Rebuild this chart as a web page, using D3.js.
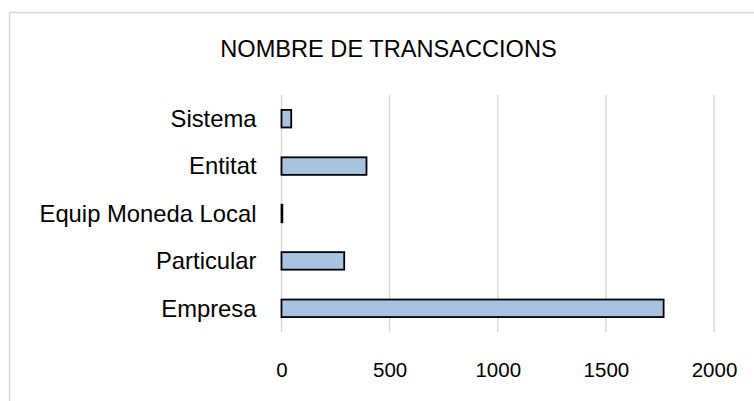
<!DOCTYPE html>
<html><head><meta charset="utf-8">
<script src="https://cdn.jsdelivr.net/npm/d3@7"></script>
<style>body{margin:0;background:#fff}svg{display:block}text{font-family:"Liberation Sans",Arial,sans-serif;fill:#000}</style>
</head><body><svg id="c" width="754" height="401"></svg>
<script>
const categories = ["Sistema","Entitat","Equip Moneda Local","Particular","Empresa"];
const values = [45, 393, 4, 290, 1767];
const xTicks = [0, 500, 1000, 1500, 2000];
const title = "NOMBRE DE TRANSACCIONS";

const svg = d3.select("#c");
svg.append("rect").attr("x",9.5).attr("y",12.5).attr("width",800).attr("height",500)
  .attr("fill","#fff").attr("stroke","#d9d9d9").attr("stroke-width",1.5);

const x = d3.scaleLinear().domain([0,2000]).range([281.5,714]);
const y = d3.scaleBand().domain(categories).range([95,332]).paddingInner(0.63).paddingOuter(0.315);

svg.append("g").selectAll("line").data(xTicks).join("line")
  .attr("x1",d=>x(d)).attr("x2",d=>x(d)).attr("y1",95).attr("y2",332)
  .attr("stroke","#d9d9d9").attr("stroke-width",1.5);

svg.append("g").selectAll("rect").data(values).join("rect")
  .attr("x",x(0)).attr("y",(d,i)=>y(categories[i]))
  .attr("width",d=>x(d)-x(0)).attr("height",y.bandwidth())
  .attr("fill","#a8c2e1").attr("stroke","#000").attr("stroke-width",1.8);

const xAxis = d3.axisBottom(x).tickValues(xTicks).tickFormat(d3.format("d")).tickSize(0).tickPadding(0);
const gx = svg.append("g").attr("transform","translate(0,361)").call(xAxis);
gx.select(".domain").remove();
gx.selectAll("text").attr("dy",0).attr("y",15.5).style("font-size","20.5px").attr("fill","#000");

const yAxis = d3.axisLeft(y).tickSize(0).tickPadding(25);
const gy = svg.append("g").attr("transform",`translate(${x(0)},0)`).call(yAxis);
gy.select(".domain").remove();
gy.selectAll("text").style("font-size","23.8px").attr("dy","0.35em").attr("fill","#000");

svg.append("text").attr("x",388.5).attr("y",57.3).attr("text-anchor","middle")
  .style("font-size","23.6px").text(title);
</script></body></html>
